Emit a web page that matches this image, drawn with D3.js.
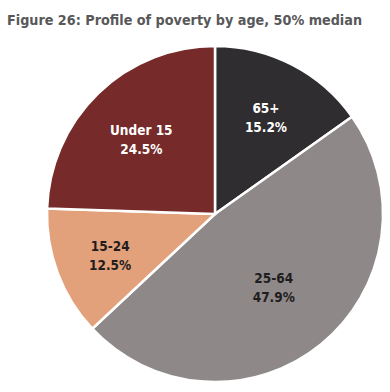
<!DOCTYPE html>
<html><head><meta charset="utf-8">
<script src="https://cdn.jsdelivr.net/npm/d3@7"></script>
<style>body{margin:0;background:#fff;}svg{display:block;}</style>
</head><body>
<script>
const categories = ["65+", "25-64", "15-24", "Under 15"];
const values = [15.2, 47.9, 12.5, 24.5];
const colors = ["#2f2d30", "#8e8888", "#e2a17a", "#762a29"];
const labelColors = ["#ffffff", "#1f1d1e", "#1f1d1e", "#ffffff"];
const labelRadii = [111, 93, 112, 106];

const W = 390, H = 392, cx = 215, cy = 214, R = 168;
const font = "'DejaVu Sans Condensed', 'Liberation Sans Narrow', sans-serif";

const svg = d3.select("body").append("svg").attr("width", W).attr("height", H);

svg.append("text").attr("x", 7).attr("y", 24.5)
  .attr("font-family", font).attr("font-weight", "bold").attr("font-size", 14)
  .attr("textLength", 355).attr("lengthAdjust", "spacingAndGlyphs")
  .attr("fill", "#58585a")
  .text("Figure 26: Profile of poverty by age, 50% median");

const data = categories.map((c, i) => ({cat: c, value: values[i], i}));
const pie = d3.pie().sort(null).value(d => d.value);
const arcs = pie(data);
const arc = d3.arc().innerRadius(0).outerRadius(R);

const g = svg.append("g").attr("transform", `translate(${cx},${cy})`);
g.selectAll("path").data(arcs).join("path")
  .attr("d", arc)
  .attr("fill", d => colors[d.data.i])
  .attr("stroke", "#fff").attr("stroke-width", 2.5).attr("stroke-linejoin", "miter");

const lbl = g.selectAll("text.l").data(arcs).join("text").attr("class", "l")
  .attr("transform", d => {
    const r = labelRadii[d.data.i];
    const c = d3.arc().innerRadius(r).outerRadius(r).centroid(d);
    return `translate(${c[0]},${c[1]})`;
  })
  .attr("text-anchor", "middle")
  .attr("font-family", font).attr("font-weight", "bold").attr("font-size", 13.5)
  .attr("fill", d => labelColors[d.data.i]);
lbl.append("tspan").attr("x", 0).attr("dy", "-0.2em").text(d => d.data.cat);
lbl.append("tspan").attr("x", 0).attr("dy", "1.4em").text(d => d.data.value.toFixed(1) + "%");
</script>
</body></html>
